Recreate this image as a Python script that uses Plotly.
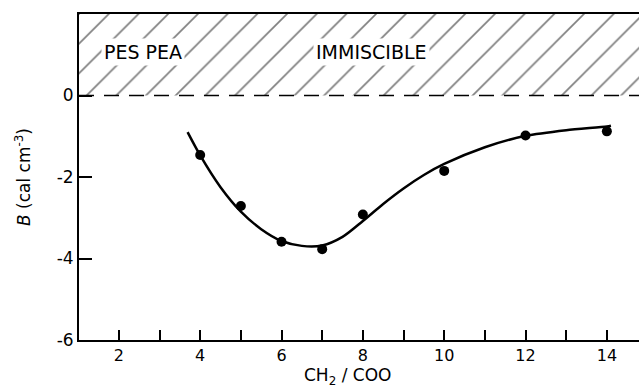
import plotly.graph_objects as go

# data points (CH2/COO ratio, B in cal cm^-3)
ratio = [4, 5, 6, 7, 8, 10, 12, 14]
B_vals = [-1.46, -2.71, -3.59, -3.77, -2.92, -1.85, -0.98, -0.88]

# smooth fitted curve
curve_x = [3.69, 4.0, 4.5, 5.0, 5.5, 6.0, 6.5, 7.0, 7.5, 8.0, 8.5, 9.0, 9.5, 10.0, 11.0, 12.0, 13.0, 14.0, 14.1]
curve_y = [-0.90, -1.47, -2.25, -2.85, -3.28, -3.57, -3.69, -3.68, -3.47, -3.08, -2.66, -2.28, -1.95, -1.68, -1.27, -0.99, -0.85, -0.76, -0.74]

x_range = [1.02, 14.79]
y_range = [-6, 2.0]
immiscible_band = [0, 2.0]

x_major = [2, 4, 6, 8, 10, 12, 14]
x_minor = [3, 5, 7, 9, 11, 13]
y_ticks = [0, -2, -4, -6]
y_ticktext = ["0", "-2", "-4", "-6"]

FONT = "DejaVu Sans"

fig = go.Figure()

# hatched immiscible region
fig.add_trace(go.Scatter(
    x=[x_range[0], x_range[1], x_range[1], x_range[0], x_range[0]],
    y=[immiscible_band[0], immiscible_band[0], immiscible_band[1], immiscible_band[1], immiscible_band[0]],
    mode="lines", fill="toself", line=dict(width=0, color="rgba(0,0,0,0)"),
    fillcolor="white",
    fillpattern=dict(shape="/", size=21, solidity=0.08, fgcolor="black", bgcolor="white"),
    hoverinfo="skip", showlegend=False,
))

fig.add_trace(go.Scatter(
    x=curve_x, y=curve_y, mode="lines",
    line=dict(color="black", width=2.5, shape="spline", smoothing=0.8),
    showlegend=False,
))
fig.add_trace(go.Scatter(
    x=ratio, y=B_vals, mode="markers",
    marker=dict(color="black", size=10),
    showlegend=False,
))

fig.add_shape(type="line", xref="paper", x0=0, x1=1, yref="y", y0=0, y1=0,
              line=dict(color="black", width=1.5, dash="15px,10px"))

fig.add_annotation(x=2.59, y=1.06, text="PES PEA", showarrow=False,
                   font=dict(family=FONT, size=19, color="black"), bgcolor="white", borderpad=2)
fig.add_annotation(x=8.22, y=1.06, text="IMMISCIBLE", showarrow=False,
                   font=dict(family=FONT, size=19, color="black"), bgcolor="white", borderpad=2)

# x-axis title placed below tick labels
fig.add_annotation(xref="paper", yref="paper", x=0.48, y=0, yanchor="top", yshift=-23,
                   text="CH<sub>2</sub> / COO", showarrow=False,
                   font=dict(family=FONT, size=17, color="black"))

fig.update_layout(
    width=639, height=387,
    margin=dict(l=79, r=0, t=14, b=47),
    paper_bgcolor="white", plot_bgcolor="white",
    font=dict(family=FONT, size=17, color="black"),
)
fig.update_xaxes(
    range=x_range, showgrid=False, zeroline=False,
    showline=True, linecolor="black", linewidth=2, mirror=True,
    tickmode="array", tickvals=x_major, ticks="inside", ticklen=10, tickwidth=1.5, tickcolor="black",
    minor=dict(tickmode="array", tickvals=x_minor, ticks="inside", ticklen=10, tickwidth=1.5, tickcolor="black"),
    tickfont=dict(size=16),
)
fig.update_yaxes(
    range=y_range, showgrid=False, zeroline=False,
    showline=True, linecolor="black", linewidth=2,
    tickmode="array", tickvals=y_ticks, ticktext=y_ticktext,
    ticks="inside", ticklen=13, tickwidth=1.5, tickcolor="black",
    title=dict(text="<i>B</i> (cal cm<sup>-3</sup>)", font=dict(size=17), standoff=22),
    tickfont=dict(size=17),
)

fig.write_html("out.html")
